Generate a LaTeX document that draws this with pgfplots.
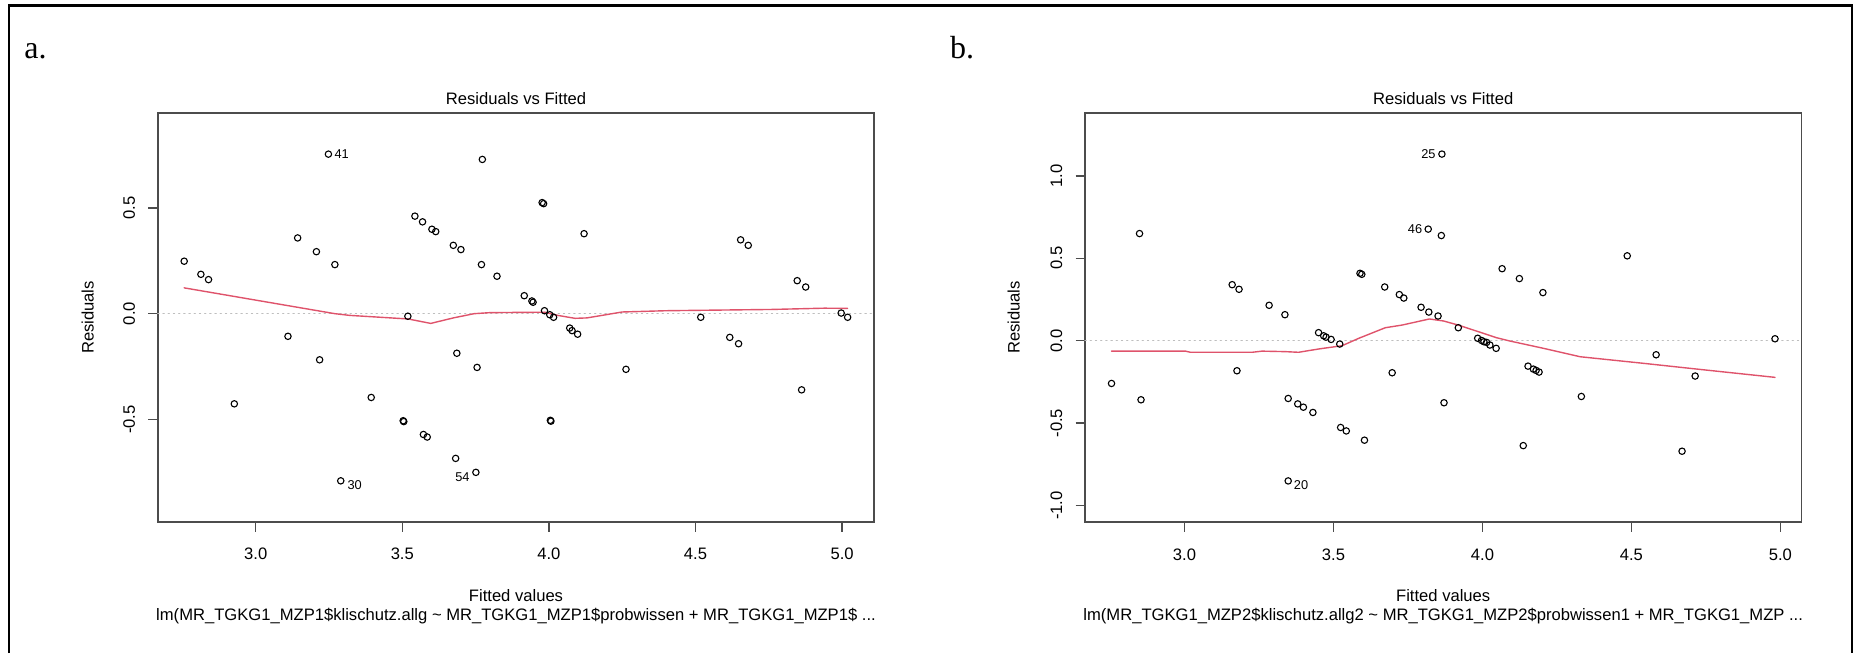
\documentclass[border=0pt]{standalone}
\usepackage{fontspec}
\setmainfont{Liberation Sans}
\newfontfamily\seriffont{Liberation Serif}
\usepackage{pgfplots}
\pgfplotsset{compat=1.18}
\definecolor{rred}{HTML}{DF536B}
\definecolor{rgray}{HTML}{BEBEBE}
\newcommand\rf{\fontsize{8.3pt}{10pt}\selectfont}
\newcommand\idf{\fontsize{6.4pt}{7pt}\selectfont}

\pgfplotsset{
  rdiag/.style={
    width=358.25pt, height=204.8pt, scale only axis,
    anchor=south west, clip=false,
    axis line style={black!70, line width=0.9pt},
    tick style={black!70, line width=0.7pt},
    tick align=outside, major tick length=4.75pt,
    xtick pos=left, ytick pos=left,
    /pgf/number format/assume math mode=true,
    ticklabel style={font=\rf, /pgf/number format/fixed,
      /pgf/number format/fixed zerofill, /pgf/number format/precision=1},
    xticklabel style={anchor=base}, xticklabel shift=14.1pt,
    yticklabel style={rotate=90, anchor=base}, yticklabel shift=6.65pt,
    xtick={3,3.5,4,4.5,5},
    every axis plot/.append style={line cap=round},
  },
  pts/.style={only marks, mark=o, mark size=1.6pt, black, line width=0.55pt},
  smooth line/.style={no marks, rred, line width=0.7pt},
  zero line/.style={no marks, rgray, dotted, line width=0.6pt},
}

\begin{document}
\begin{tikzpicture}
\path[use as bounding box] (0,0) rectangle (928pt,326.5pt);
\draw[line width=1.25pt] (4.5pt,0) -- (4.5pt,323.65pt) -- (926pt,323.65pt) -- (926pt,0);

\node[anchor=base west, inner sep=0, font=\seriffont\fontsize{16pt}{18pt}\selectfont] at (12pt,297.35pt) {a.};
\node[anchor=base west, inner sep=0, font=\seriffont\fontsize{16pt}{18pt}\selectfont] at (474.85pt,297.35pt) {b.};

% panel a
\begin{axis}[rdiag, at={(78.9pt,65.35pt)},
  xmin=2.666, xmax=5.110, ymin=-0.986, ymax=0.950,
  ytick={-0.5,0,0.5}]
\addplot[zero line] coordinates {(2.666,0)(5.110,0)};
\addplot[pts] coordinates {
(2.756,0.248)(2.813,0.186)(2.839,0.161)(2.927,-0.426)(3.110,-0.107)
(3.143,0.358)(3.207,0.293)(3.218,-0.218)(3.248,0.754)(3.270,0.232)
(3.290,-0.790)(3.394,-0.396)(3.503,-0.506)(3.505,-0.510)(3.519,-0.012)
(3.543,0.461)(3.569,0.434)(3.572,-0.571)(3.585,-0.583)(3.601,0.399)
(3.614,0.388)(3.674,0.323)(3.682,-0.684)(3.686,-0.187)(3.700,0.303)
(3.751,-0.750)(3.755,-0.254)(3.770,0.232)(3.773,0.729)(3.823,0.177)
(3.916,0.085)(3.942,0.060)(3.946,0.054)(3.977,0.525)(3.982,0.520)
(3.985,0.014)(4.003,-0.005)(4.005,-0.504)(4.007,-0.508)(4.016,-0.017)
(4.071,-0.068)(4.079,-0.080)(4.098,-0.097)(4.120,0.378)(4.263,-0.263)
(4.518,-0.017)(4.617,-0.112)(4.647,-0.142)(4.654,0.349)(4.680,0.323)
(4.847,0.156)(4.862,-0.360)(4.876,0.126)(4.997,0.003)(5.019,-0.017)
};
\addplot[smooth line] coordinates {
(2.756,0.122)(3.27,0.0)(3.32,-0.008)(3.52,-0.025)(3.597,-0.046)(3.674,-0.020)
(3.745,0.0)(3.80,0.005)(3.986,0.007)(4.03,-0.008)(4.089,-0.022)(4.13,-0.020)
(4.25,0.008)(4.40,0.014)(4.76,0.020)(4.94,0.026)(5.019,0.025)
};
\node[font=\idf, anchor=west, inner sep=0, xshift=2.9pt] at (axis cs:3.248,0.754) {41};
\node[font=\idf, anchor=west, inner sep=0, xshift=3.2pt, yshift=-2.15pt] at (axis cs:3.290,-0.790) {30};
\node[font=\idf, anchor=east, inner sep=0, xshift=-3pt, yshift=-2.5pt] at (axis cs:3.751,-0.750) {54};
\end{axis}

% panel b
\begin{axis}[rdiag, at={(542.5pt,65.35pt)},
  xmin=2.666, xmax=5.071, ymin=-1.101, ymax=1.383,
  ytick={-1,-0.5,0,0.5,1}]
\addplot[zero line] coordinates {(2.666,0)(5.071,0)};
\addplot[pts] coordinates {
(2.755,-0.259)(2.849,0.650)(2.854,-0.358)(3.160,0.340)(3.176,-0.182)
(3.183,0.312)(3.284,0.215)(3.337,0.158)(3.348,-0.350)(3.348,-0.850)
(3.380,-0.383)(3.399,-0.403)(3.431,-0.435)(3.450,0.049)(3.467,0.030)
(3.475,0.022)(3.492,0.008)(3.521,-0.020)(3.524,-0.526)(3.543,-0.547)
(3.589,0.409)(3.595,0.403)(3.604,-0.603)(3.672,0.326)(3.697,-0.194)
(3.721,0.280)(3.736,0.259)(3.794,0.203)(3.818,0.677)(3.820,0.174)
(3.851,0.150)(3.862,0.638)(3.864,1.132)(3.871,-0.376)(3.919,0.079)
(3.984,0.015)(3.997,0.002)(4.005,-0.006)(4.014,-0.010)(4.025,-0.026)
(4.046,-0.046)(4.066,0.437)(4.124,0.377)(4.137,-0.636)(4.153,-0.154)
(4.171,-0.172)(4.180,-0.180)(4.190,-0.190)(4.203,0.292)(4.332,-0.338)
(4.486,0.515)(4.583,-0.085)(4.670,-0.670)(4.714,-0.214)(4.982,0.012)
};
\addplot[smooth line] coordinates {
(2.755,-0.063)(3.003,-0.063)(3.02,-0.070)(3.227,-0.070)(3.26,-0.063)
(3.338,-0.066)(3.383,-0.070)(3.45,-0.050)(3.529,-0.030)(3.585,0.015)
(3.674,0.079)(3.730,0.095)(3.822,0.132)(3.869,0.120)(3.919,0.095)
(4.003,0.045)(4.048,0.018)(4.093,-0.002)(4.205,-0.046)(4.328,-0.097)
(4.541,-0.137)(4.731,-0.174)(4.982,-0.222)
};
\node[font=\idf, anchor=east, inner sep=0, xshift=-3pt] at (axis cs:3.864,1.132) {25};
\node[font=\idf, anchor=east, inner sep=0, xshift=-2.85pt] at (axis cs:3.818,0.677) {46};
\node[font=\idf, anchor=west, inner sep=0, xshift=2.65pt, yshift=-2.15pt] at (axis cs:3.348,-0.850) {20};
\end{axis}

% titles and labels
\foreach \cx/\lx/\sub in {
  258.0/43.9/{lm(MR\_TGKG1\_MZP1\$klischutz.allg \textasciitilde{} MR\_TGKG1\_MZP1\$probwissen + MR\_TGKG1\_MZP1\$ ...},
  721.6/506.9/{lm(MR\_TGKG1\_MZP2\$klischutz.allg2 \textasciitilde{} MR\_TGKG1\_MZP2\$probwissen1 + MR\_TGKG1\_MZP ...}} {
  \node[anchor=base, inner sep=0, font=\rf] at (\cx pt,274pt) {Residuals vs Fitted};
  \node[anchor=base, inner sep=0, font=\rf] at (\cx pt,25.75pt) {Fitted values};
  \node[anchor=base, inner sep=0, font=\rf] at (\cx pt,16.5pt) {\sub};
  \node[rotate=90, inner sep=0, font=\rf] at (\lx pt,167.75pt) {Residuals};
}
\end{tikzpicture}
\end{document}
